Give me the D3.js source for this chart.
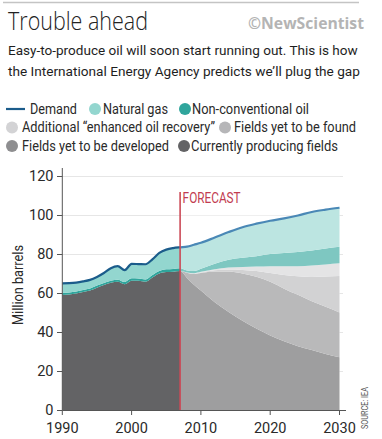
<!DOCTYPE html>
<html><head><meta charset="utf-8">
<script src="https://cdn.jsdelivr.net/npm/d3@7"></script>
<style>
body{margin:0;background:#fff}
svg text{font-family:"Liberation Sans Narrow","Roboto","Open Sans",sans-serif;fill:#2b2b2b}
</style>
</head><body><svg id="c" width="382" height="439"></svg>
<script>
// ---------- DATA (million barrels per day) ----------
const years = [1990,1991,1992,1993,1994,1995,1996,1997,1998,1999,2000,2001,2002,2003,2004,2005,2006,2007,
               2008,2009,2010,2012,2014,2016,2018,2020,2022,2024,2026,2028,2030];
const currentlyProducing = [59.2,59.5,60.0,60.8,61.6,63.0,64.3,65.5,66.0,64.8,66.6,66.5,66.0,68.2,70.3,71.0,71.2,71.5,
               68.0,64.5,61.5,55.5,50.5,46.0,42.0,38.5,35.5,33.0,31.0,29.0,27.3];
const yetToBeDeveloped = [0,0,0,0,0,0,0,0,0,0,0,0,0,0,0,0,0,0,
               2.6,5.5,9.0,15.8,20.8,24.3,26.6,27.5,27.0,26.3,25.0,24.2,23.0];
const yetToBeFound = [0,0,0,0,0,0,0,0,0,0,0,0,0,0,0,0,0,0,
               0.1,0.2,0.3,0.6,1.0,1.8,3.0,4.5,7.0,9.5,12.5,15.5,18.7];
const enhancedRecovery = [0,0,0,0,0,0,0,0,0,0,0,0,0,0,0,0,0,0,
               0.1,0.2,0.3,0.6,1.0,1.5,2.2,3.5,4.5,5.2,5.8,6.2,6.5];
const nonConventional = [1.0,1.0,1.0,1.0,1.0,1.1,1.1,1.1,1.1,1.1,1.2,1.2,1.2,1.3,1.3,1.4,1.4,1.4,
               1.0,1.1,1.6,2.8,4.0,4.7,5.3,6.2,6.8,7.3,7.8,8.2,8.5];
const naturalGas = [5.0,4.8,4.6,4.4,4.4,4.4,5.1,6.4,6.9,6.1,7.4,7.4,7.8,8.0,9.2,10.1,10.7,10.8,
               12.2,13.5,13.3,13.4,14.2,15.7,16.7,17.1,17.7,18.7,19.7,19.9,20.0];
const demand = [65.2,65.3,65.6,66.2,67.0,68.5,70.5,73.0,74.0,72.0,75.2,75.1,75.0,77.5,80.8,82.5,83.3,83.7,
               84.0,85.0,86.0,88.7,91.5,94.0,95.8,97.3,98.5,100.0,101.8,103.0,104.0];
const yTicks = [0,20,40,60,80,100,120];
const xTicks = [1990,2000,2010,2020,2030];
const forecastYear = 2007;
const layerKeys = ["cp","dv","found","eor","nc","gas"];
const layerColors = ["#636365","#8e8e90","#b6b6b8","#d3d3d5","#2fa59c","#93d6cf"];
const legendItems = [
  {label:"Demand", type:"line"},
  {label:"Natural gas", key:"gas"},
  {label:"Non-conventional oil", key:"nc"},
  {label:"Additional \u201Cenhanced oil recovery\u201D", key:"eor"},
  {label:"Fields yet to be found", key:"found"},
  {label:"Fields yet to be developed", key:"dv"},
  {label:"Currently producing fields", key:"cp"}
];

// ---------- SETUP ----------
const svg = d3.select("#c");
const colorOf = k => layerColors[layerKeys.indexOf(k)];
function fit(sel, w){
  sel.each(function(){
    const L = this.getComputedTextLength();
    if (Math.abs(L - w) > 1.5) d3.select(this).attr("textLength", w).attr("lengthAdjust","spacingAndGlyphs");
  });
  return sel;
}
function fitSize(sel, w){
  sel.each(function(){
    const fs = +d3.select(this).attr("font-size");
    const L = this.getComputedTextLength();
    if (L > 0) d3.select(this).attr("font-size", (fs * w / L).toFixed(2));
  });
  return sel;
}

// header
svg.append("line").attr("x1",3).attr("x2",359).attr("y1",2.5).attr("y2",2.5)
  .attr("stroke","#c4c4c4").attr("stroke-width",1.6);
fit(svg.append("text").attr("x",8).attr("y",30).style("font-family","'Open Sans',sans-serif")
  .attr("font-weight",300).attr("font-size",25).style("fill","#222").text("Trouble ahead"),140);
fit(svg.append("text").attr("x",248).attr("y",29).style("font-family","'Open Sans',sans-serif")
  .attr("font-weight",700).attr("font-size",16.5).style("fill","#b4b4b4").text("\u00A9NewScientist"),116);
fitSize(svg.append("text").attr("x",8).attr("y",55).attr("font-size",15).style("fill","#1e1e1e")
  .text("Easy-to-produce oil will soon start running out. This is how"),350);
fitSize(svg.append("text").attr("x",8).attr("y",75.5).attr("font-size",15).style("fill","#1e1e1e")
  .text("the International Energy Agency predicts we\u2019ll plug the gap"),352);

// legend
const legPos = [
  {sx:6, tx:30, y:109, w:47},
  {sx:95, tx:103, y:109, w:65},
  {sx:185, tx:192, y:109, w:117},
  {sx:12, tx:22, y:127.5, w:193},
  {sx:225, tx:234, y:127.5, w:122},
  {sx:12, tx:22, y:146, w:147},
  {sx:184, tx:191, y:146, w:147}
];
legendItems.forEach((it,i)=>{
  const p = legPos[i];
  if (it.type==="line") {
    svg.append("line").attr("x1",p.sx).attr("x2",p.sx+19).attr("y1",p.y).attr("y2",p.y)
      .attr("stroke","#1b5c8b").attr("stroke-width",2.2);
  } else {
    svg.append("circle").attr("cx",p.sx).attr("cy",p.y).attr("r",6).attr("fill",colorOf(it.key));
  }
  fit(svg.append("text").attr("x",p.tx).attr("y",p.y+4.6).attr("font-size",14).style("fill","#2a2a2a")
    .text(it.label), p.w);
});

// scales
const x = d3.scaleLinear().domain([1990,2030]).range([62.3,339.5]);
const y = d3.scaleLinear().domain([0,120]).range([410.5,176.5]);

// gridlines
svg.append("g").selectAll("line").data(yTicks.filter(t=>t>0)).join("line")
  .attr("x1",x(1990)).attr("x2",343).attr("y1",d=>y(d)).attr("y2",d=>y(d))
  .attr("stroke","#e6e6e6").attr("stroke-width",1);

// stacked data
const rows = years.map((yr,i)=>({year:yr, cp:currentlyProducing[i], dv:yetToBeDeveloped[i],
  found:yetToBeFound[i], eor:enhancedRecovery[i], nc:nonConventional[i], gas:naturalGas[i], demand:demand[i]}));
const series = d3.stack().keys(layerKeys)(rows);
const area = d3.area().x(d=>x(d.data.year)).y0(d=>y(d[0])).y1(d=>y(d[1])).curve(d3.curveMonotoneX);
svg.append("g").selectAll("path").data(series).join("path")
  .attr("d",area).attr("fill",d=>colorOf(d.key));

// forecast wash
svg.append("rect").attr("x",x(forecastYear)).attr("width",x(2030)-x(forecastYear)+0.5)
  .attr("y",y(120)).attr("height",y(0)-y(120)).attr("fill","#fff").attr("opacity",0.38);

// demand line
const defs = svg.append("defs");
defs.append("clipPath").attr("id","hist").append("rect").attr("x",0).attr("y",0)
  .attr("width",x(forecastYear)).attr("height",439);
defs.append("clipPath").attr("id","fc").append("rect").attr("x",x(forecastYear)).attr("y",0)
  .attr("width",382).attr("height",439);
const line = d3.line().x(d=>x(d.year)).y(d=>y(d.demand)).curve(d3.curveMonotoneX);
svg.append("path").datum(rows).attr("d",line).attr("fill","none").attr("stroke","#1b5c8b")
  .attr("stroke-width",2.2).attr("clip-path","url(#hist)");
svg.append("path").datum(rows).attr("d",line).attr("fill","none").attr("stroke","#4a88b6")
  .attr("stroke-width",2.2).attr("clip-path","url(#fc)");

// forecast marker
svg.append("line").attr("x1",x(forecastYear)).attr("x2",x(forecastYear)).attr("y1",192).attr("y2",y(0))
  .attr("stroke","#cc4a58").attr("stroke-width",1.6);
fit(svg.append("text").attr("x",x(forecastYear)+2.5).attr("y",203).attr("font-size",14)
  .style("fill","#c23c50").text("FORECAST"),58);

// y axis
svg.append("line").attr("x1",62.3).attr("x2",62.3).attr("y1",168).attr("y2",y(0))
  .attr("stroke","#555").attr("stroke-width",1);
const yg = svg.append("g");
yg.selectAll("line").data(yTicks).join("line").attr("x1",57).attr("x2",62.3)
  .attr("y1",d=>y(d)).attr("y2",d=>y(d)).attr("stroke","#555");
yg.selectAll("text").data(yTicks).join("text").attr("x",53.5).attr("y",d=>y(d)+4.8)
  .attr("text-anchor","end").attr("font-size",14.5).style("fill","#2a2a2a").text(d=>d);

// x axis
svg.append("line").attr("x1",62.3).attr("x2",346).attr("y1",y(0)).attr("y2",y(0))
  .attr("stroke","#555").attr("stroke-width",1);
const xg = svg.append("g");
xg.selectAll("line").data(xTicks).join("line").attr("x1",d=>x(d)).attr("x2",d=>x(d))
  .attr("y1",y(0)).attr("y2",y(0)+4.5).attr("stroke","#555");
xg.selectAll("text").data(xTicks).join("text").attr("x",d=>x(d)).attr("y",433)
  .attr("text-anchor","middle").attr("font-size",14.5).style("fill","#2a2a2a").text(d=>d);

// axis title and source
fit(svg.append("text").attr("transform","translate(23,285) rotate(-90)").attr("text-anchor","middle")
  .attr("font-size",14).style("fill","#2a2a2a").text("Million barrels"),80);
fit(svg.append("text").attr("transform","translate(368,408) rotate(-90)").attr("text-anchor","middle")
  .attr("font-size",9).style("fill","#555").text("SOURCE: IEA"),42);
</script>
</body></html>
